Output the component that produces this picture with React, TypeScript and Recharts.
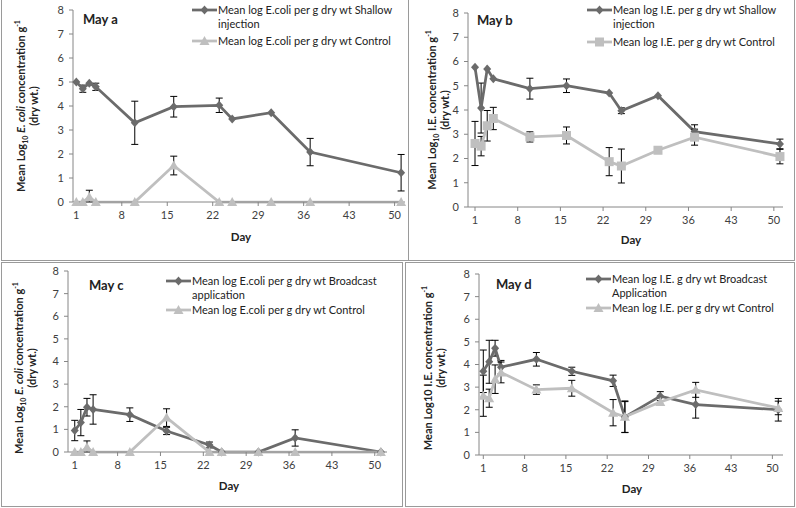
import React from 'react';
import { LineChart, Line, XAxis, YAxis, ErrorBar } from 'recharts';

type Err = number | [number, number] | null;

const days = [1, 2, 3, 4, 10, 16, 23, 25, 31, 37, 51];
const dayTicks = [1, 8, 15, 22, 29, 36, 43, 50];
const logTicks = [0, 1, 2, 3, 4, 5, 6, 7, 8];

// E. coli, shallow injection (May a)
const ecoliShallow = [5.0, 4.72, 4.95, 4.8, 3.3, 3.97, 4.03, 3.46, 3.72, 2.08, 1.22];
const ecoliShallowErr: Err[] = [null, 0.15, null, 0.15, 0.9, 0.43, 0.3, null, null, 0.57, 0.76];

// E. coli, broadcast application (May c)
const ecoliBroadcast = [0.95, 1.3, 1.98, 1.88, 1.65, 0.93, 0.31, 0, 0, 0.62, 0];
const ecoliBroadcastErr: Err[] = [0.45, 0.58, 0.39, 0.65, 0.3, 0.16, 0.13, null, null, 0.36, null];

// E. coli, control (May a and c)
const ecoliControl = [0, 0, 0.21, 0, 0, 1.52, 0, 0, 0, 0, 0];
const ecoliControlErr: Err[] = [null, null, [0.21, 0.28], null, null, 0.39, null, null, null, null, null];

// I.E., shallow injection (May b)
const ieShallow = [5.76, 4.08, 5.69, 5.29, 4.88, 5.0, 4.7, 3.97, 4.59, 3.11, 2.6];
const ieShallowErr: Err[] = [null, 1.03, null, null, 0.43, 0.28, null, 0.12, null, 0.28, 0.2];

// I.E., broadcast application (May d)
const ieBroadcast = [3.7, 4.12, 4.72, 3.88, 4.23, 3.7, 3.28, 1.68, 2.6, 2.23, 2.0];
const ieBroadcastErr: Err[] = [0.94, 0.95, 0.35, 0.3, 0.3, 0.18, 0.25, 0.68, 0.2, 0.6, 0.5];

// I.E., control (May b and d)
const ieControl = [2.62, 2.51, 3.35, 3.65, 2.89, 2.95, 1.87, 1.69, 2.34, 2.88, 2.08];
const ieControlErr: Err[] = [0.91, 0.4, 0.63, 0.46, 0.21, 0.35, 0.58, 0.7, null, 0.33, 0.3];

const DARK = '#6b6b6b';
const LIGHT = '#bfbfbf';
const AXIS = '#868686';
const TEXT = '#404040';
const FONT = 'Lato, "Open Sans", sans-serif';

type Shape = 'diamond' | 'triangle' | 'square';

function marker(shape: Shape, cx: number, cy: number, color: string, key?: number) {
  if (shape === 'diamond') {
    return <polygon key={key} points={`${cx},${cy - 4.5} ${cx + 4},${cy} ${cx},${cy + 4.5} ${cx - 4},${cy}`} fill={color} />;
  }
  if (shape === 'triangle') {
    return <polygon key={key} points={`${cx},${cy - 5} ${cx + 5},${cy + 4} ${cx - 5},${cy + 4}`} fill={color} />;
  }
  return <rect key={key} x={cx - 4.5} y={cy - 4.5} width={9} height={9} fill={color} />;
}

const dotOf = (shape: Shape, color: string) => (p: any) => {
  if (p.cx == null || p.cy == null) return <g key={p.index} />;
  return marker(shape, p.cx, p.cy, color, p.index);
};

function LegendItem({ x, y, lines, color, shape }: { x: number; y: number; lines: string[]; color: string; shape: Shape }) {
  return (
    <>
      <svg style={{ position: 'absolute', left: x, top: y - 6 }} width={25} height={12}>
        <line x1={0} x2={25} y1={6} y2={6} stroke={color} strokeWidth={2.75} />
        {marker(shape, 12.5, 6, color)}
      </svg>
      <div style={{ position: 'absolute', left: x + 26, top: y - 7, fontSize: 11, lineHeight: '13.5px', color: '#222', whiteSpace: 'nowrap' }}>
        {lines.map((l) => (
          <div key={l}>{l}</div>
        ))}
      </div>
    </>
  );
}

type PanelProps = {
  frame: [number, number, number, number];
  plot: [number, number, number, number];
  xDomain: [number, number];
  main: number[];
  mainErr: Err[];
  ctrl: number[];
  ctrlErr: Err[];
  ctrlShape: Shape;
  tag: string;
  tagPos: [number, number];
  mainLines: string[];
  ctrlLines: string[];
  legendPos: [number, number, number];
  title: React.ReactNode;
  titlePos: [number, number];
  dayPos: [number, number];
};

function Panel(p: PanelProps) {
  const [fl, ft, fw, fh] = p.frame;
  const [pl, pt, pr, pb] = p.plot;
  const rows = days.map((d, i) => ({
    day: d,
    main: p.main[i],
    mainErr: p.mainErr[i],
    ctrl: p.ctrl[i],
    ctrlErr: p.ctrlErr[i],
  }));
  const tick = { fontSize: 11, fill: TEXT, fontFamily: FONT };
  return (
    <div style={{ position: 'absolute', left: fl, top: ft, width: fw, height: fh, background: '#fff', boxShadow: 'inset 0 0 0 1px #9a9a9a', fontFamily: FONT, overflow: 'hidden' }}>
      <LineChart width={fw} height={fh} data={rows} margin={{ top: pt, right: fw - pr, bottom: 0, left: 0 }}>
        <XAxis
          type="number"
          dataKey="day"
          domain={p.xDomain}
          ticks={dayTicks}
          interval={0}
          height={fh - pb}
          stroke={AXIS}
          tickSize={4}
          tickMargin={5}
          tick={tick}
        />
        <YAxis type="number" domain={[0, 8]} ticks={logTicks} interval={0} width={pl} stroke={AXIS} tickSize={4} tickMargin={5} tick={tick} />
        <Line dataKey="main" stroke={DARK} strokeWidth={2.75} dot={dotOf('diamond', DARK)} activeDot={false} isAnimationActive={false}>
          <ErrorBar dataKey="mainErr" direction="y" width={3.5} stroke="#000" strokeWidth={1} isAnimationActive={false} />
        </Line>
        <Line dataKey="ctrl" stroke={LIGHT} strokeWidth={2.75} dot={dotOf(p.ctrlShape, LIGHT)} activeDot={false} isAnimationActive={false}>
          <ErrorBar dataKey="ctrlErr" direction="y" width={3.5} stroke="#000" strokeWidth={1} isAnimationActive={false} />
        </Line>
      </LineChart>
      <div style={{ position: 'absolute', left: p.tagPos[0], top: p.tagPos[1] - 9, fontSize: 13, fontWeight: 700, color: '#222' }}>{p.tag}</div>
      <LegendItem x={p.legendPos[0]} y={p.legendPos[1]} lines={p.mainLines} color={DARK} shape="diamond" />
      <LegendItem x={p.legendPos[0]} y={p.legendPos[2]} lines={p.ctrlLines} color={LIGHT} shape={p.ctrlShape} />
      <div
        style={{
          position: 'absolute',
          left: p.titlePos[0],
          top: p.titlePos[1],
          transform: 'translate(-50%, -50%) rotate(-90deg)',
          whiteSpace: 'nowrap',
          textAlign: 'center',
          fontSize: 11,
          fontWeight: 700,
          lineHeight: '13px',
          color: '#222',
        }}
      >
        {p.title}
        <br />
        (dry wt.)
      </div>
      <div style={{ position: 'absolute', left: p.dayPos[0], top: p.dayPos[1], transform: 'translate(-50%, -50%)', fontSize: 11.5, fontWeight: 700, color: '#222' }}>Day</div>
    </div>
  );
}

const small: React.CSSProperties = { fontSize: 7, lineHeight: 0 };

const ecoliTitle = (
  <>
    Mean Log<sub style={small}>10</sub> <i>E. coli</i> concentration g<sup style={small}>-1</sup>
  </>
);
const ieTitleSub = (
  <>
    Mean Log<sub style={small}>10</sub> I.E. concentration g<sup style={small}>-1</sup>
  </>
);
const ieTitle = (
  <>
    Mean Log10 I.E. concentration g<sup style={small}>-1</sup>
  </>
);

export default function App() {
  return (
    <div style={{ position: 'absolute', left: 0, top: 0, width: 796, height: 508, background: '#fff', overflow: 'hidden' }}>
      <Panel
        frame={[1, -2, 408, 263]}
        plot={[72, 12, 404, 204]}
        xDomain={[0.49, 51.6]}
        main={ecoliShallow}
        mainErr={ecoliShallowErr}
        ctrl={ecoliControl}
        ctrlErr={ecoliControlErr}
        ctrlShape="triangle"
        tag="May a"
        tagPos={[82, 22]}
        mainLines={['Mean log E.coli per g dry wt Shallow', 'injection']}
        ctrlLines={['Mean log E.coli per g dry wt Control']}
        legendPos={[191, 12, 43]}
        title={ecoliTitle}
        titlePos={[26, 108]}
        dayPos={[240, 238]}
      />
      <Panel
        frame={[408, -2, 387, 263]}
        plot={[60, 15, 375, 209]}
        xDomain={[-0.15, 51.5]}
        main={ieShallow}
        mainErr={ieShallowErr}
        ctrl={ieControl}
        ctrlErr={ieControlErr}
        ctrlShape="square"
        tag="May b"
        tagPos={[69, 23]}
        mainLines={['Mean log I.E. per g dry wt Shallow', 'injection']}
        ctrlLines={['Mean log I.E. per g dry wt Control']}
        legendPos={[179, 12, 44]}
        title={ieTitleSub}
        titlePos={[30, 112]}
        dayPos={[223, 241]}
      />
      <Panel
        frame={[1, 262, 402, 245]}
        plot={[67, 9, 386, 190]}
        xDomain={[-0.1, 52]}
        main={ecoliBroadcast}
        mainErr={ecoliBroadcastErr}
        ctrl={ecoliControl}
        ctrlErr={ecoliControlErr}
        ctrlShape="triangle"
        tag="May c"
        tagPos={[88, 24]}
        mainLines={['Mean log E.coli per g dry wt Broadcast', 'application']}
        ctrlLines={['Mean log E.coli per g dry wt Control']}
        legendPos={[165, 19, 48]}
        title={ecoliTitle}
        titlePos={[24, 106]}
        dayPos={[228, 223]}
      />
      <Panel
        frame={[405, 262, 390, 245]}
        plot={[74, 12, 378, 193]}
        xDomain={[0.27, 51.8]}
        main={ieBroadcast}
        mainErr={ieBroadcastErr}
        ctrl={ieControl}
        ctrlErr={ieControlErr}
        ctrlShape="triangle"
        tag="May d"
        tagPos={[91, 23]}
        mainLines={['Mean log I.E. g dry wt Broadcast', 'Application']}
        ctrlLines={['Mean log I.E. per g dry wt Control']}
        legendPos={[181, 17, 46]}
        title={ieTitle}
        titlePos={[29, 106]}
        dayPos={[227, 226]}
      />
    </div>
  );
}
